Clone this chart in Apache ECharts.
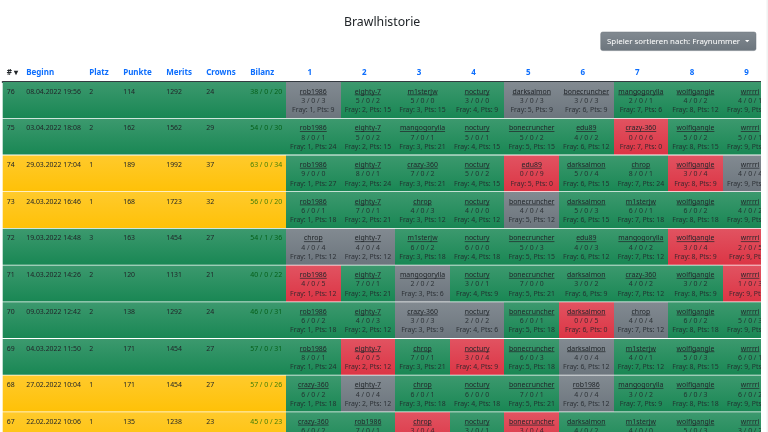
<!DOCTYPE html>
<html>
<head>
<meta charset="utf-8">
<style>
html,body{margin:0;padding:0;background:#fff;}
#main{width:768px;height:432px;}
</style>
<script src="https://cdn.jsdelivr.net/npm/echarts@6/dist/echarts.min.js"></script>
</head>
<body>
<div id="main"></div>
<script type="text/javascript">
	//left columns
	var leftHeaders = ["#","Beginn","Platz","Punkte","Merits","Crowns","Bilanz"];
	var fights = ["76","75","74","73","72","71","70","69","68","67"];
	var begins = ["08.04.2022 19:56","03.04.2022 18:08","29.03.2022 17:04","24.03.2022 16:46","19.03.2022 14:48","14.03.2022 14:26","09.03.2022 12:42","04.03.2022 11:50","27.02.2022 10:04","22.02.2022 10:06"];
	var places = [2,2,1,1,3,2,2,2,1,1];
	var scores = [114,162,189,168,163,120,138,171,171,135];
	var merits = [1292,1562,1992,1723,1454,1131,1292,1454,1454,1238];
	var crowns = [24,29,37,32,27,21,24,27,27,23];
	var balances = ["38 / 0 / 20","54 / 0 / 30","63 / 0 / 34","56 / 0 / 20","54 / 1 / 36","40 / 0 / 22","46 / 0 / 31","57 / 0 / 31","57 / 0 / 26","45 / 0 / 23"];

	//player columns
	var frayNumbers = ["1","2","3","4","5","6","7","8","9"];
	var players = [
		["rob1986","eighty-7","m1sterjw","noctury","darksalmon","bonecruncher","mangogorylla","wolfigangle","wrrrri"],
		["rob1986","eighty-7","mangogorylla","noctury","bonecruncher","edu89","crazy-360","wolfigangle","wrrrri"],
		["rob1986","eighty-7","crazy-360","noctury","edu89","darksalmon","chrop","wolfigangle","wrrrri"],
		["rob1986","eighty-7","chrop","noctury","bonecruncher","darksalmon","m1sterjw","wolfigangle","wrrrri"],
		["chrop","eighty-7","m1sterjw","noctury","bonecruncher","edu89","mangogorylla","wolfigangle","wrrrri"],
		["rob1986","eighty-7","mangogorylla","noctury","bonecruncher","darksalmon","crazy-360","wolfigangle","wrrrri"],
		["rob1986","eighty-7","crazy-360","noctury","bonecruncher","darksalmon","chrop","wolfigangle","wrrrri"],
		["rob1986","eighty-7","chrop","noctury","bonecruncher","darksalmon","m1sterjw","wolfigangle","wrrrri"],
		["crazy-360","eighty-7","chrop","noctury","bonecruncher","rob1986","mangogorylla","wolfigangle","wrrrri"],
		["crazy-360","rob1986","chrop","noctury","bonecruncher","darksalmon","m1sterjw","wolfigangle","wrrrri"]
	];
	var wins = [
		[3,5,5,3,3,3,2,4,4],
		[8,5,7,5,5,4,0,5,5],
		[9,8,7,5,0,5,8,3,4],
		[6,7,4,4,4,5,6,6,4],
		[4,4,6,6,5,4,4,3,2],
		[4,7,2,3,7,3,4,3,1],
		[6,4,3,2,6,0,4,6,5],
		[8,4,7,3,6,4,4,5,6],
		[6,4,6,6,7,4,3,6,6],
		[6,7,3,3,3,4,4,5,3]
	];
	var draws = [
		[0,0,0,0,0,0,0,0,0],
		[0,0,0,0,0,0,0,0,0],
		[0,0,0,0,0,0,0,0,0],
		[0,0,0,0,0,0,0,0,0],
		[0,0,0,0,0,0,0,0,0],
		[0,0,0,0,0,0,0,0,0],
		[0,0,0,0,0,0,0,0,0],
		[0,0,0,0,0,0,0,0,0],
		[0,0,0,0,0,0,0,0,0],
		[0,0,0,0,0,0,0,0,0]
	];
	var losses = [
		[3,2,0,0,3,3,1,2,1],
		[1,2,1,1,2,2,6,2,1],
		[0,1,2,2,9,4,1,4,4],
		[1,1,3,0,4,3,1,2,2],
		[4,4,2,0,3,3,2,4,5],
		[5,1,2,1,0,2,2,2,3],
		[2,3,3,2,1,5,4,2,3],
		[1,5,1,4,3,4,1,3,1],
		[2,4,1,0,1,4,2,3,2],
		[2,1,4,1,4,2,0,3,2]
	];
	var points = [
		[9,15,15,9,9,9,6,12,12],
		[24,15,21,15,15,12,0,15,15],
		[27,24,21,15,0,15,24,9,12],
		[18,21,12,12,12,15,18,18,12],
		[12,12,18,18,15,12,12,9,6],
		[12,21,6,9,21,9,12,9,3],
		[18,12,9,6,18,0,12,18,15],
		[24,12,21,9,18,12,12,15,18],
		[18,12,18,18,21,12,9,18,18],
		[18,21,9,9,9,12,12,15,9]
	];

	var FONT = '"Noto Sans"';
	var DARK = "#212529";
	var YELLOW_ROWS = {"74":1,"73":1,"68":1,"67":1};
	var colX = [4,23.5,86.5,120.5,163.5,203.5,247.5];//left edge of each left column, inside grid 0

	//bootstrap bg-gradient
	function fn_gradient(top,bottom){
		return new echarts.graphic.LinearGradient(0,0,0,1,[{offset:0,color:top},{offset:1,color:bottom}]);
	}
	var fills = {
		green:["#3c996e","#198754"],
		yellow:["#ffca2c","#ffc107"],
		red:["#e15361","#dc3545"],
		gray:["#828a91","#6c757d"]
	};

	var leftData = [];
	fights.forEach(function(el,index){
		var rowTexts = [el,begins[index],places[index],scores[index],merits[index],crowns[index],balances[index]];
		leftData.push([index].concat(rowTexts));
	});

	var cellData = [];
	players.forEach(function(row,r){
		row.forEach(function(name,c){
			cellData.push([c,r,name,wins[r][c],draws[r][c],losses[r][c],points[r][c]]);
		});
	});

	//one row of the left table: colored band and seven texts
	function fn_render_left(params,api){
		var r = api.value(0);
		var top = api.coord([0,r]);
		var size = api.size([0,1]);
		var y = top[1]-size[1]/2;
		var x0 = api.coord([0,0])[0];
		var x1 = api.coord([283.3,0])[0];
		var fight = fights[r];
		var fill = YELLOW_ROWS[fight] ? fills.yellow : fills.green;
		var children = [{
			type:'rect',
			shape:{x:x0,y:y,width:x1-x0,height:size[1]-0.8},
			style:{fill:fn_gradient(fill[0],fill[1])}
		}];
		colX.forEach(function(cx,i){
			children.push({
				type:'text',
				style:{
					x:api.coord([cx,0])[0],y:y+9.7,
					text:String(api.value(i+1)),
					font:'6.9px '+FONT,
					fill:i===6 ? (YELLOW_ROWS[fight] ? "#3f7d08" : "#055f18") : DARK,
					textAlign:'left',textVerticalAlign:'middle'
				}
			});
		});
		return {type:'group',children:children};
	}

	//one player cell
	function fn_render_cell(params,api){
		var c = api.value(0),r = api.value(1);
		var center = api.coord([c,r]);
		var size = api.size([1,1]);
		var x0 = Math.round(center[0]-size[0]/2);
		var x1 = Math.round(center[0]+size[0]/2);
		var y = center[1]-size[1]/2;
		var w = api.value(3),d = api.value(4),l = api.value(5);
		var fill = w>l ? fills.green : (w<l ? fills.red : fills.gray);
		var name = api.value(2);
		var font = '6.9px '+FONT;
		var nameW = new echarts.graphic.Text({style:{text:name,font:font}}).getBoundingRect().width;
		var muted = "rgba(33,37,41,0.85)";
		return {type:'group',children:[
			{type:'rect',shape:{x:x0,y:y,width:x1-x0,height:size[1]-0.8},style:{fill:fn_gradient(fill[0],fill[1])}},
			{type:'text',style:{x:center[0],y:y+9.7,text:name,font:font,fill:DARK,textAlign:'center',textVerticalAlign:'middle'}},
			{type:'line',shape:{x1:center[0]-nameW/2,y1:y+12.8,x2:center[0]+nameW/2,y2:y+12.8},style:{stroke:DARK,lineWidth:0.7}},
			{type:'text',style:{x:center[0],y:y+19,text:w+' / '+d+' / '+l,font:font,fill:muted,textAlign:'center',textVerticalAlign:'middle'}},
			{type:'text',style:{x:center[0],y:y+28.3,text:'Fray: '+(c+1)+', Pts: '+api.value(6),font:font,fill:muted,textAlign:'center',textVerticalAlign:'middle'}}
		]};
	}

	var myChart = echarts.init(document.getElementById("main"));
	var option = {
		animation:false,
		backgroundColor:"#fff",
		textStyle:{fontFamily:FONT},
		title:{
			text:"Brawlhistorie",
			left:339,top:11.5,
			textStyle:{fontFamily:FONT,fontSize:12.3,fontWeight:'normal',color:DARK}
		},
		grid:[
			{left:2.7,top:82,width:283.3,height:367,outerBoundsMode:'none'},
			{left:286,top:82,width:491.4,height:367,outerBoundsMode:'none'}
		],
		xAxis:[
			{
				gridIndex:0,type:'value',position:'top',min:0,max:283.3,
				splitLine:{show:false},axisTick:{show:false},
				axisLine:{show:true,lineStyle:{color:"#343a40",width:2}},
				axisLabel:{
					customValues:colX,
					margin:5,
					align:'left',
					fontFamily:FONT,fontSize:8,fontWeight:'bold',color:"#0d6efd",
					formatter:function(v){
						var i = colX.indexOf(v);
						return i===0 ? '{sort|# ▾}' : leftHeaders[i];
					},
					rich:{sort:{color:DARK,fontFamily:FONT,fontSize:8,fontWeight:'bold'}}
				}
			},
			{
				gridIndex:1,type:'category',position:'top',data:frayNumbers,
				splitLine:{show:false},axisTick:{show:false},
				axisLine:{show:true,lineStyle:{color:"#343a40",width:2}},
				axisLabel:{
					margin:5,padding:[0,7,0,0],
					fontFamily:FONT,fontSize:8,fontWeight:'bold',color:"#0d6efd"
				}
			}
		],
		yAxis:[
			{gridIndex:0,type:'category',inverse:true,data:fights,show:false},
			{gridIndex:1,type:'category',inverse:true,data:fights,show:false}
		],
		series:[
			{
				type:'custom',xAxisIndex:0,yAxisIndex:0,clip:false,silent:true,
				coordinateSystem:'cartesian2d',
				encode:{x:-1,y:0},
				renderItem:fn_render_left,
				data:leftData
			},
			{
				type:'custom',xAxisIndex:1,yAxisIndex:1,clip:false,silent:true,
				coordinateSystem:'cartesian2d',
				encode:{x:0,y:1},
				renderItem:fn_render_cell,
				data:cellData
			}
		],
		graphic:[
			{type:'rect',z:100,silent:true,shape:{x:761,y:60,width:7,height:372},style:{fill:"#fff"}},
			{type:'rect',z:100,silent:true,shape:{x:766.5,y:0,width:1.5,height:432},style:{fill:"#f1f1f1"}},
			{type:'rect',z:100,silent:true,shape:{x:600.7,y:32,width:155.3,height:18.6,r:2},style:{fill:fn_gradient("#828a91","#6c757d"),stroke:"#6c757d",lineWidth:0.5}},
			{type:'text',z:101,silent:true,style:{x:607,y:41.4,text:"Spieler sortieren nach: Fraynummer",font:'7.9px '+FONT,fill:"#fff",textAlign:'left',textVerticalAlign:'middle'}},
			{type:'polygon',z:101,silent:true,shape:{points:[[745,40],[749.4,40],[747.2,42.2]]},style:{fill:"#fff"}}
		]
	};
	myChart.setOption(option);
</script>
</body>
</html>
